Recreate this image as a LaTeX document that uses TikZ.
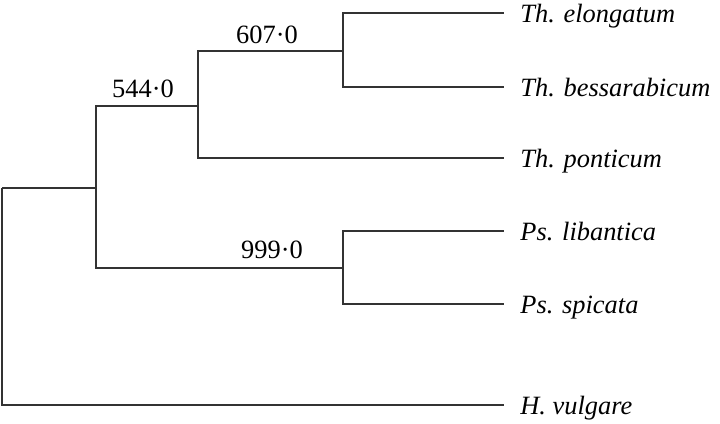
\documentclass[tikz,border=0pt]{standalone}
\usepackage{fontspec}
\setmainfont{Liberation Serif}
\begin{document}
\begin{tikzpicture}[x=0.5pt,y=-0.5pt,
  branch/.style={draw=black!80, line width=0.75pt},
  leaf/.style={anchor=base west, inner sep=0pt, font=\fontsize{13.2}{15}\selectfont\itshape},
  support/.style={anchor=base, inner sep=0pt, font=\fontsize{13.2}{15}\selectfont}]
\useasboundingbox (0,0) rectangle (720,424);
% internal nodes
\coordinate (R) at (2,188);
\coordinate (A) at (96,188);
\coordinate (B) at (198,106);
\coordinate (D) at (343,51);
\coordinate (C) at (343,268);
% leaf tips
\coordinate (tE) at (504,13);
\coordinate (tB) at (504,87);
\coordinate (tP) at (504,158);
\coordinate (tL) at (504,231);
\coordinate (tS) at (504,304);
\coordinate (tH) at (504,405);
% leaf names
\node[leaf] (nE) at (520,22) {Th. elongatum};
\node[leaf] (nB) at (520,96) {Th. bessarabicum};
\node[leaf] (nP) at (520,167) {Th. ponticum};
\node[leaf] (nL) at (520,240) {Ps. libantica};
\node[leaf] (nS) at (520,313) {Ps. spicata};
\node[leaf] (nH) at (520,414) {H. vulgare};
% support values
\node[support] (s544) at (143,97.3) {544·0};
\node[support] (s607) at (267,43.3) {607·0};
\node[support] (s999) at (272,258.7) {999·0};
% branches
\draw[branch] (R) |- (A);
\draw[branch] (R) |- (tH);
\draw[branch] (A) |- (B);
\draw[branch] (A) |- (C);
\draw[branch] (B) |- (D);
\draw[branch] (B) |- (tP);
\draw[branch] (D) |- (tE);
\draw[branch] (D) |- (tB);
\draw[branch] (C) |- (tL);
\draw[branch] (C) |- (tS);
\end{tikzpicture}
\end{document}
